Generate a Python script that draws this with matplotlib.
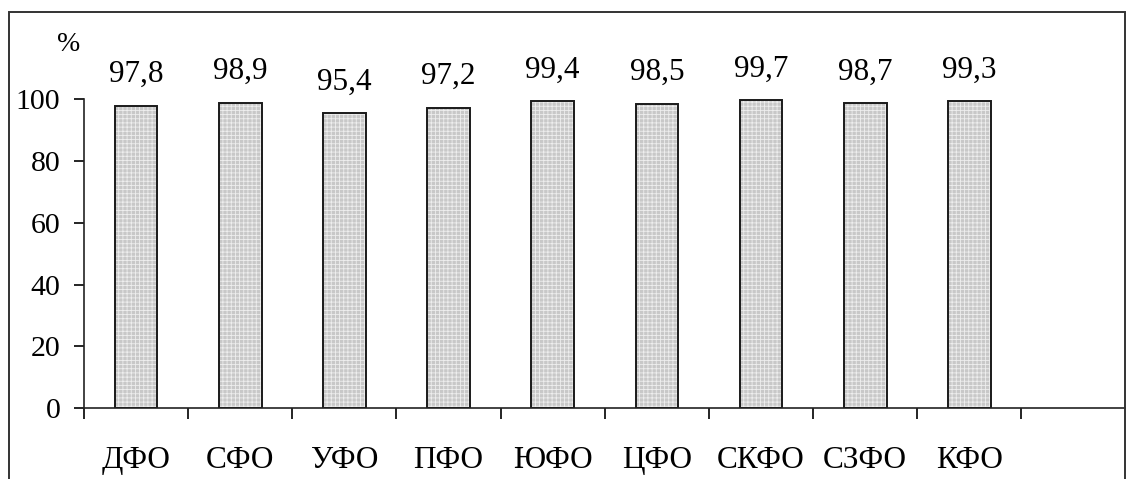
import matplotlib.pyplot as plt
import numpy as np
from matplotlib.patches import Rectangle

# Data
districts = ['ДФО', 'СФО', 'УФО', 'ПФО', 'ЮФО', 'ЦФО', 'СКФО', 'СЗФО', 'КФО']
values = [97.8, 98.9, 95.4, 97.2, 99.4, 98.5, 99.7, 98.7, 99.3]

plt.rcParams['font.family'] = ['Liberation Serif', 'DejaVu Serif']
plt.rcParams['hatch.linewidth'] = 0.6

fig = plt.figure(figsize=(11.26, 4.79), dpi=100)
ax = fig.add_axes([0.0746, 0.148, 0.925, 0.645])

x = np.arange(len(districts))

# grey fill with fine light grid, then black outline
ax.bar(x, values, width=0.41, color='#c8c8c8', edgecolor='#eeeeee',
       hatch='++++', linewidth=0)
ax.bar(x, values, width=0.41, fill=False, edgecolor='#1a1a1a', linewidth=1.4)

for xi, v in zip(x, values):
    ax.annotate(f'{v:.1f}'.replace('.', ','), (xi, v), xytext=(0, 12),
                textcoords='offset points', ha='center', va='bottom',
                fontsize=22.5)

ax.set_xlim(-0.5, len(districts) + 0.5)
ax.set_ylim(0, 100)
ax.set_yticks(np.arange(0, 101, 20))
ax.tick_params(axis='y', labelsize=21.5, length=7, width=1.2, pad=10)

# boundary ticks between categories, labels centred in each slot
ax.set_xticks(np.arange(len(districts) + 1) - 0.5)
ax.set_xticklabels([])
ax.tick_params(axis='x', which='major', length=8, width=1.2)
ax.set_xticks(x, minor=True)
ax.set_xticklabels(districts, minor=True, fontsize=22.5)
ax.tick_params(axis='x', which='minor', length=0, pad=27)

for s in ['top', 'right']:
    ax.spines[s].set_visible(False)
for s in ['left', 'bottom']:
    ax.spines[s].set_linewidth(1.2)
    ax.spines[s].set_color('#222222')

fig.text(0.061, 0.908, '%', fontsize=20, ha='center', va='center')

# outer frame around the whole chart
fig.add_artist(Rectangle((9 / 1126, -0.1), 1116 / 1126, 1.1 - 12 / 479,
                         transform=fig.transFigure, fill=False,
                         edgecolor='#333333', linewidth=1.4))

plt.savefig('out.png', dpi=100)
plt.close()
